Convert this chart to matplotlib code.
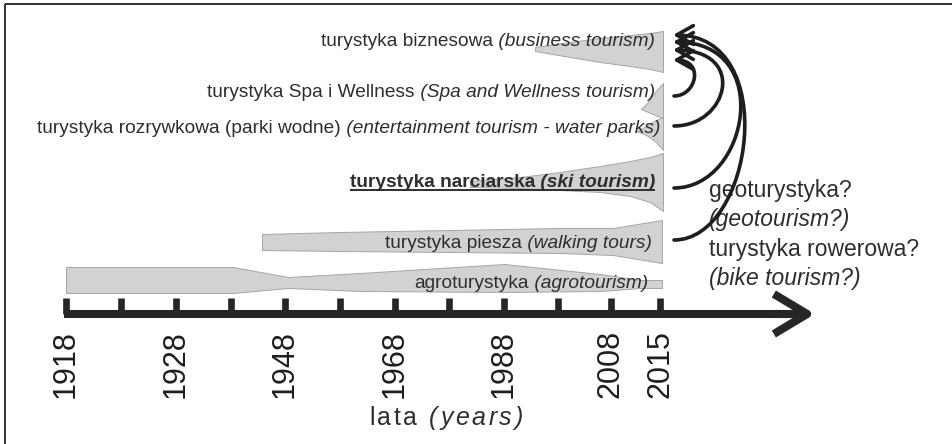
import matplotlib
matplotlib.use('Agg')
import matplotlib.pyplot as plt
from matplotlib.patches import FancyArrowPatch, Rectangle
from matplotlib.path import Path

plt.rcParams['font.family'] = ['Liberation Sans', 'DejaVu Sans']

# time axis (positions along the axis, px) and the labelled years
tick_pos = [66, 121, 176, 231, 285, 340, 395, 449, 504, 558, 611, 660]
year_labels = ['1918', '1928', '1948', '1968', '1988', '2008', '2015']
year_idx = [0, 2, 4, 6, 8, 10, 11]
axis_y = 314
axis_end = 815

# band outlines: x, upper edge, lower edge
biz_x = [535, 570, 600, 630, 650, 663]
biz_top = [47, 42, 38, 35, 33, 31]
biz_bot = [51, 57, 62, 66, 69, 72]

spa_x = [641, 648, 655, 663]
spa_top = [109, 102, 92, 83]
spa_bot = [109, 112, 115, 118]

ent_x = [637, 648, 656, 663]
ent_top = [131, 125, 120, 117]
ent_bot = [131, 136, 142, 150]

ski_x = [470, 520, 560, 600, 630, 650, 663]
ski_top = [181, 177, 172, 166, 161, 157, 153]
ski_bot = [187, 188, 190, 192, 196, 202, 211]

walk_x = [262, 340, 450, 560, 613, 662]
walk_top = [234, 232, 230, 228, 228, 220]
walk_bot = [250, 251, 252, 253, 255, 263]

agro_x = [66, 233, 288, 360, 504, 600, 640, 662]
agro_top = [267, 267, 277, 273, 264, 274, 280, 280]
agro_bot = [293, 293, 288, 291, 292, 291, 288, 288]

# labels
band_pl = ['turystyka biznesowa', 'turystyka Spa i Wellness',
           'turystyka rozrywkowa (parki wodne)', 'turystyka narciarska',
           'turystyka piesza', 'agroturystyka']
band_en = ['(business tourism)', '(Spa and Wellness tourism)',
           '(entertainment tourism - water parks)', '(ski tourism)',
           '(walking tours)', '(agrotourism)']
label_base = [46, 97, 133, 187, 248, 288]
label_right = [655, 655, 660, 655, 652, 648]

# arrows feeding into business tourism
arrow_from = [96, 126, 188, 240]
arrow_to = [60, 50, 42, 35]
arrow_bulge = [20, 48, 66, 70]

new_forms = ['geoturystyka?', '(geotourism?)', 'turystyka rowerowa?', '(bike tourism?)']
new_italic = [False, True, False, True]
new_base = [197, 226, 256, 285]

fig = plt.figure(figsize=(9.52, 4.44), dpi=100)
ax = fig.add_axes([0, 0, 1, 1])
ax.set_xlim(0, 952)
ax.set_ylim(444, 0)
ax.axis('off')
renderer = fig.canvas.get_renderer()
inv = ax.transData.inverted()

ax.add_patch(Rectangle((5, 4), 1000, 500, fill=False, ec='#222222', lw=1.3))

band_fc = '#d2d2d2'
band_ec = '#a5a5a5'
for bx, bt, bb in [(biz_x, biz_top, biz_bot), (spa_x, spa_top, spa_bot),
                   (ent_x, ent_top, ent_bot), (ski_x, ski_top, ski_bot),
                   (walk_x, walk_top, walk_bot), (agro_x, agro_top, agro_bot)]:
    ax.fill_between(bx, bt, bb, facecolor=band_fc, edgecolor=band_ec, lw=0.7, zorder=1)

txt_c = '#2e2e2e'
fs = 13.8
for i in range(len(band_pl)):
    bold = (i == 3)
    w = 'bold' if bold else 'normal'
    t_en = ax.text(label_right[i], label_base[i], ' ' + band_en[i], ha='right', va='baseline',
                   style='italic', weight=w, fontsize=fs, color=txt_c, zorder=3)
    bb = t_en.get_window_extent(renderer)
    x_left = inv.transform((bb.x0, bb.y0))[0]
    t_pl = ax.text(x_left, label_base[i], band_pl[i], ha='right', va='baseline',
                   weight=w, fontsize=fs, color=txt_c, zorder=3)
    if bold:
        b0 = t_pl.get_window_extent(renderer)
        x0 = inv.transform((b0.x0, b0.y0))[0]
        ax.plot([x0, label_right[i]], [label_base[i] + 3.5, label_base[i] + 3.5],
                color=txt_c, lw=1.4, zorder=3, solid_capstyle='butt')

for y0, y1, k in zip(arrow_from, arrow_to, arrow_bulge):
    c = k / 0.75
    p = Path([(674, y0), (674 + 0.85 * c, y0), (674 + 1.15 * c, y1), (673, y1)],
             [Path.MOVETO, Path.CURVE4, Path.CURVE4, Path.CURVE4])
    a = FancyArrowPatch(path=p, arrowstyle='->,head_length=0.8,head_width=0.45',
                        mutation_scale=15, lw=2.6, color='#1e1e1e', zorder=4)
    ax.add_patch(a)

for s, it, y in zip(new_forms, new_italic, new_base):
    ax.text(709, y, s, ha='left', va='baseline', fontsize=16.5,
            style='italic' if it else 'normal', color=txt_c, zorder=2)

# time axis
ax_c = '#262626'
ax.plot([tick_pos[0] - 2.5, axis_end - 6], [axis_y, axis_y], color=ax_c, lw=5.8,
        solid_capstyle='butt')
ax.annotate('', xy=(axis_end, axis_y), xytext=(axis_end - 40, axis_y),
            arrowprops=dict(arrowstyle='->,head_length=1.0,head_width=0.6', mutation_scale=24,
                            lw=5.8, color=ax_c, shrinkA=0, shrinkB=0, capstyle='butt'))
ax.vlines(tick_pos, 298, axis_y, colors=ax_c, lw=4.8)
for i, lab in zip(year_idx, year_labels):
    ax.text(tick_pos[i], 330, lab, rotation=90, ha='center', va='top',
            fontsize=22, color='#1e1e1e')

# axis title, letter-spaced as in the original
title_parts = [('lata ', 'normal'), ('(years)', 'italic')]
gap = 2.6
chars = []
for part, st in title_parts:
    for ch in part:
        t = ax.text(0, 425, ch, fontsize=18, style=st, color=txt_c, ha='left', va='baseline')
        b = t.get_window_extent(renderer)
        chars.append((t, b.width))
total = sum(wd for _, wd in chars) + gap * (len(chars) - 1)
x = 446 - total / 2
for t, wd in chars:
    t.set_x(x)
    x += wd + gap

fig.savefig('out.png', dpi=100)
